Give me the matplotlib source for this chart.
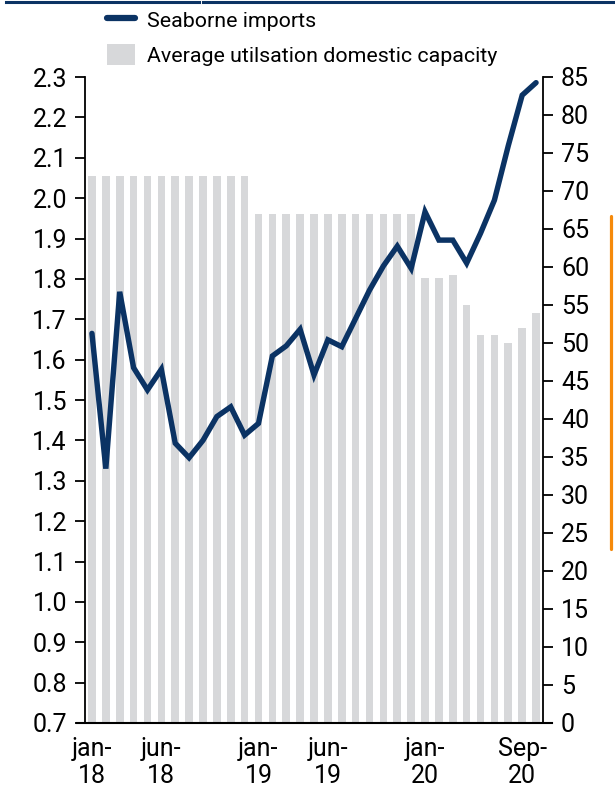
import matplotlib
matplotlib.use('Agg')
import matplotlib.pyplot as plt
from matplotlib.lines import Line2D
from matplotlib.patches import Patch
import numpy as np

plt.rcParams['font.family'] = ['Roboto', 'DejaVu Sans']

# monthly data jan-18 .. sep-20
imports = [1.665, 1.33, 1.768, 1.58, 1.525, 1.576, 1.393, 1.357, 1.40, 1.459,
           1.483, 1.413, 1.442, 1.609, 1.634, 1.675, 1.562, 1.649, 1.632, 1.702,
           1.772, 1.832, 1.881, 1.826, 1.966, 1.896, 1.896, 1.839, 1.913, 1.995,
           2.13, 2.255, 2.286]
utilisation = [72] * 12 + [67] * 12 + [58.5, 58.5, 59, 55, 51, 51, 50, 52, 54]
tick_pos = [0, 5, 12, 17, 24, 31]
tick_labels = ['jan-\n18', 'jun-\n18', 'jan-\n19', 'jun-\n19', 'jan-\n20', 'Sep-\n20']

navy = '#0b3364'
grey = '#d7d8da'

W, H = 615, 806
fig = plt.figure(figsize=(W / 100, H / 100), dpi=100)
ax = fig.add_axes([85 / W, 83 / H, 458 / W, 646 / H])
ax2 = ax.twinx()

x = np.arange(len(imports))
ax2.bar(x, utilisation, width=0.55, color=grey, zorder=1)
ax.plot(x, imports, color=navy, lw=3.9, solid_capstyle='round',
        solid_joinstyle='miter', zorder=3)

# line above the bars
ax.set_zorder(ax2.get_zorder() + 1)
ax.patch.set_visible(False)

ax.set_xlim(-0.5, 32.5)
ax.set_ylim(0.7, 2.3)
ax.set_yticks(np.arange(0.7, 2.31, 0.1))
ax.set_yticklabels([f'{v:.1f}' for v in np.arange(0.7, 2.31, 0.1)])
ax2.set_ylim(0, 85)
ax2.set_yticks(range(0, 86, 5))

ax.set_xticks(tick_pos)
ax.set_xticklabels(tick_labels, linespacing=1.15)
ax.tick_params(axis='x', length=0, pad=10, labelsize=18)
ax.tick_params(axis='y', length=7, width=1.3, labelsize=18, pad=6)
ax2.tick_params(axis='y', length=7, width=1.3, labelsize=18, pad=6)

for a in (ax, ax2):
    a.spines['top'].set_visible(False)
    a.spines['bottom'].set_visible(False)
    for s in ('left', 'right'):
        a.spines[s].set_linewidth(1.3)
ax2.spines['left'].set_visible(False)
ax.spines['right'].set_visible(False)

# bottom axis line, a bit wider than the plot
fig.add_artist(Line2D([77 / W, 552 / W], [83 / H, 83 / H], color='black', lw=1.5))

# header rule and orange marker
fig.add_artist(Line2D([6 / W, 199 / W], [1 - 1.5 / H, 1 - 1.5 / H], color=navy, lw=2.2))
fig.add_artist(Line2D([203 / W, 1], [1 - 1.5 / H, 1 - 1.5 / H], color=navy, lw=2.2))
fig.add_artist(Line2D([611 / W, 611 / W], [1 - 216 / H, 1 - 549 / H],
                      color='#f5890a', lw=2.3, solid_capstyle='round'))

handles = [Line2D([0], [0], color=navy, lw=4.5, solid_capstyle='round'),
           Patch(facecolor=grey, edgecolor='none')]
fig.legend(handles, ['Seaborne imports', 'Average utilsation domestic capacity'],
           loc='upper left', bbox_to_anchor=(107 / W, 1 - 9 / H), frameon=False,
           fontsize=15.4, handlelength=1.3, handleheight=1.15, handletextpad=0.55,
           labelspacing=0.6, borderaxespad=0, borderpad=0)

fig.savefig('out.png', dpi=100)
